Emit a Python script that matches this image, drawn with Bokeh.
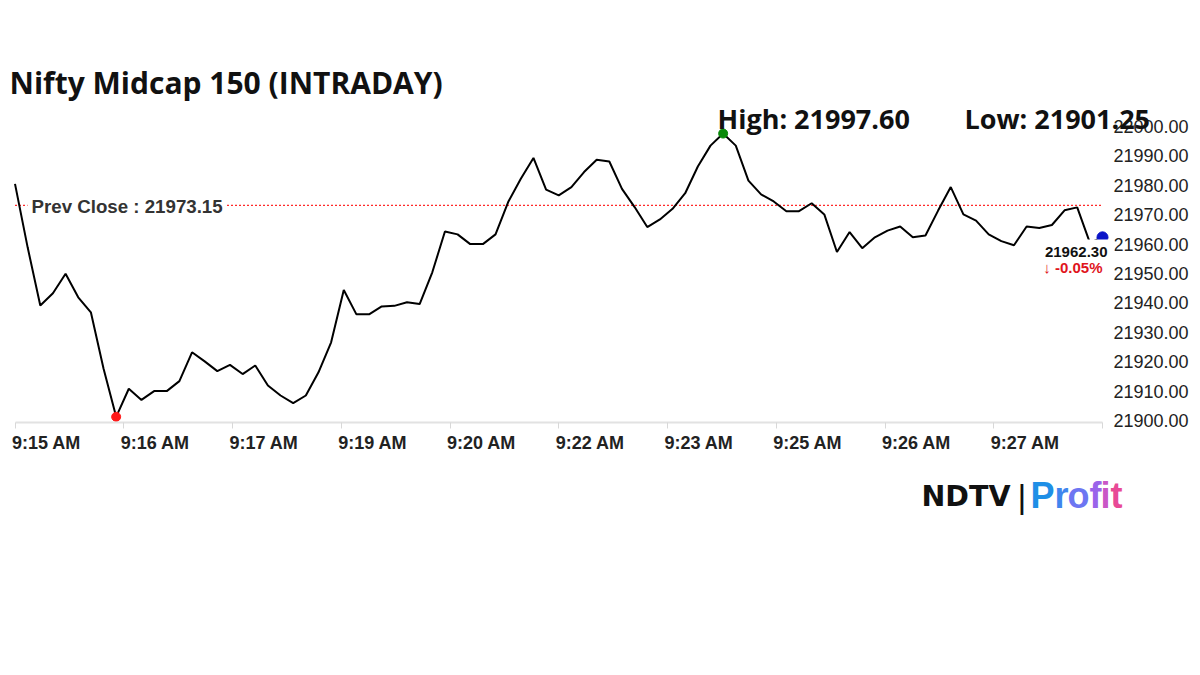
from bokeh.plotting import figure
from bokeh.models import (Range1d, FixedTicker, CustomJSTickFormatter, NumeralTickFormatter,
                          Label, LinearAxis)
from bokeh.embed import file_html
from bokeh.resources import INLINE

# ---------------- data ----------------
prices = [21980.5, 21958.9, 21939.1, 21943.3, 21949.9, 21941.9, 21936.8, 21917.7, 21901.25, 21910.8,
          21907.0, 21910.0, 21910.0, 21913.4, 21923.2, 21920.1, 21916.8, 21918.9, 21915.8, 21918.7,
          21911.9, 21908.5, 21905.9, 21908.5, 21916.4, 21926.6, 21944.4, 21936.1, 21936.1, 21938.8,
          21939.0, 21940.2, 21939.6, 21950.4, 21964.3, 21963.3, 21960.0, 21960.0, 21963.3, 21974.3,
          21982.2, 21989.3, 21978.5, 21976.6, 21979.4, 21984.5, 21988.7, 21988.1, 21978.8, 21972.6,
          21965.8, 21968.4, 21972.0, 21977.3, 21986.4, 21993.5, 21997.6, 21993.5, 21981.6, 21976.9,
          21974.5, 21971.2, 21971.2, 21973.9, 21970.1, 21957.3, 21964.1, 21958.6, 21962.3, 21964.6,
          21966.0, 21962.3, 21962.9, 21971.4, 21979.4, 21970.1, 21968.0, 21963.3, 21961.0, 21959.6,
          21966.0, 21965.5, 21966.5, 21971.5, 21972.5, 21960.5, 21962.30]
prev_close = 21973.15
x_tick_labels = ["9:15 AM", "9:16 AM", "9:17 AM", "9:19 AM", "9:20 AM", "9:22 AM",
                 "9:23 AM", "9:25 AM", "9:26 AM", "9:27 AM", ""]
y_ticks = [21900, 21910, 21920, 21930, 21940, 21950, 21960, 21970, 21980, 21990, 22000]
title_text = "Nifty Midcap 150 (INTRADAY)"

n = len(prices)
idx = list(range(n))
hi_i = max(idx, key=lambda i: prices[i])
lo_i = min(idx, key=lambda i: prices[i])
last = prices[-1]
pct = (last - prev_close) / prev_close * 100

# ---------------- layout helpers (canvas px -> data) ----------------
W, H = 1200, 560
kx = (1102 - 14.5) / (n - 1)                 # px per index
ky = 2.94                                    # px per point
def sx(px):
    return (px - 14.5) / kx
def sy(py):
    return 21900 + (420 - py) / ky

# the frame fills the whole canvas; axes are drawn at fixed locations inside it
p = figure(width=W, height=H, output_backend="svg", toolbar_location=None,
           x_range=Range1d(sx(0), sx(W)), y_range=Range1d(sy(H), sy(0)),
           x_axis_type=None, y_axis_type=None,
           min_border_left=0, min_border_right=0, min_border_top=0, min_border_bottom=0)
p.outline_line_color = None
p.background_fill_color = "white"
p.border_fill_color = "white"
p.xgrid.visible = False
p.ygrid.visible = False

# x axis: line + tick marks
tick_step = (n - 1) / (len(x_tick_labels) - 1)
xticks = [k * tick_step for k in range(len(x_tick_labels))]
xa = LinearAxis(fixed_location=sy(422), bounds=(0, n - 1))
xa.ticker = FixedTicker(ticks=xticks)
xa.formatter = CustomJSTickFormatter(code="return '';")
xa.axis_line_color = "#e2e2e2"
xa.axis_line_width = 2
xa.major_tick_line_color = "#d8d8d8"
xa.major_tick_in = 0
xa.major_tick_out = 6
xa.minor_tick_line_color = None
xa.major_label_text_font_size = "1px"
p.add_layout(xa, "below")

# x axis labels: left-aligned at each tick (label centre shifted right of the tick)
off = 31.5 / kx
xl = LinearAxis(fixed_location=sy(422))
xl.ticker = FixedTicker(ticks=[t + off for t in xticks])
xl.formatter = CustomJSTickFormatter(args=dict(labels=x_tick_labels, step=tick_step, off=off), code="""
    const i = Math.round((tick - off) / step);
    return (i >= 0 && i < labels.length) ? labels[i] : '';
""")
xl.axis_line_color = None
xl.major_tick_line_color = None
xl.minor_tick_line_color = None
xl.major_tick_in = 0
xl.major_tick_out = 0
xl.major_label_standoff = 10
xl.major_label_text_font = "Liberation Sans"
xl.major_label_text_font_style = "bold"
xl.major_label_text_font_size = "18px"
xl.major_label_text_color = "#222222"
p.add_layout(xl, "below")

# y axis (right)
ya = LinearAxis(fixed_location=sx(1106), bounds=(y_ticks[0], y_ticks[-1]))
ya.ticker = FixedTicker(ticks=y_ticks)
ya.formatter = NumeralTickFormatter(format="0.00")
ya.axis_line_color = None
ya.major_tick_line_color = None
ya.minor_tick_line_color = None
ya.major_tick_out = 0
ya.major_tick_in = 0
ya.major_label_standoff = 7
ya.major_label_text_font = "Liberation Sans"
ya.major_label_text_font_size = "18px"
ya.major_label_text_color = "#222222"
p.add_layout(ya, "right")

# previous close line
p.segment(x0=[idx[0]], x1=[idx[-1]], y0=[prev_close], y1=[prev_close],
          line_color="#ff2a2a", line_width=1.2, line_dash="2 2")

# price line
p.line(idx, prices, line_color="black", line_width=2)
p.scatter([hi_i], [prices[hi_i]], size=9, color="#0a8a0a")
p.scatter([lo_i], [prices[lo_i]], size=9, color="#ff1a1a")
p.scatter([n - 1], [last], size=11, color="#0a14c8")

# labels
def lab(text, x, y, size, color="#111111", font="Liberation Sans", style="bold",
        align="left", bg=None, pad=0):
    kw = {}
    if bg is not None:
        kw = dict(background_fill_color=bg, padding=pad)
    p.add_layout(Label(x=x, y=y, text=text, text_font=font, text_font_style=style,
                       text_font_size=size, text_color=color, text_align=align,
                       text_baseline="middle", **kw))

lab(f"Prev Close : {prev_close:.2f}", sx(27), sy(206), "18.7px", color="#333333", bg="white", pad=4)
lab(f"{last:.2f}", sx(1114), sy(251), "15px", color="#111111", align="right", bg="white", pad=7)
lab(f"\u2193 {pct:.2f}%", sx(1102), sy(267), "15px", color="#e0141c", align="right")

lab(title_text, sx(9), sy(82), "30px", font="Open Sans")
lab(f"High: {prices[hi_i]:.2f}", sx(717), sy(118), "27px", font="Open Sans")
lab(f"Low: {prices[lo_i]:.2f}", sx(964), sy(118), "27px", font="Open Sans")

# logo
lab("NDTV", sx(921), sy(496), "28.5px", color="#111111", font="DejaVu Sans")
lab("|", sx(1017), sy(495), "34px", color="#111111", style="normal")
profit = ["P", "r", "o", "f", "i", "t"]
pcols = ["#1f8fe6", "#3f86ee", "#6d76f2", "#9a64ea", "#c957c6", "#e84a96"]
pxs = [1030, 1054, 1067, 1089, 1100, 1110]
for ch, c, xx in zip(profit, pcols, pxs):
    lab(ch, sx(xx), sy(495), "36px", color=c)

open("out.html", "w").write(file_html(p, INLINE))
